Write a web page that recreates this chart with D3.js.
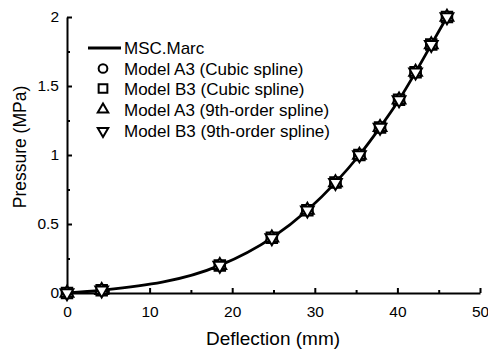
<!DOCTYPE html>
<html>
<head>
<meta charset="utf-8">
<script src="https://cdn.jsdelivr.net/npm/d3@7"></script>
<style>
body { margin: 0; background: #fff; }
text { font-family: "Liberation Sans", Arial, sans-serif; fill: #000; }
</style>
</head>
<body>
<div id="chart"></div>
<script>
// deflection (mm) and pressure (MPa)
var deflection = [0, 4.2, 18.5, 24.8, 29.1, 32.5, 35.4, 37.9, 40.2, 42.2, 44.1, 46.0];
var pressure   = [0, 0.02, 0.2, 0.4, 0.6, 0.8, 1.0, 1.2, 1.4, 1.6, 1.8, 2.0];
var seriesNames = ["MSC.Marc", "Model A3 (Cubic spline)", "Model B3 (Cubic spline)",
                   "Model A3 (9th-order spline)", "Model B3 (9th-order spline)"];
var xTicks = [0, 10, 20, 30, 40, 50];
var yTicks = [0, 0.5, 1, 1.5, 2];

var W = 488, H = 351;
var margin = {top: 17, right: 8, bottom: 58, left: 67};
var width = 480 - margin.left;
var height = 293 - margin.top;

var svg = d3.select("#chart").append("svg")
    .attr("width", W)
    .attr("height", H);

var g = svg.append("g")
    .attr("transform", "translate(" + margin.left + "," + margin.top + ")");

var x = d3.scaleLinear().domain([0, 50]).range([0, width]);
var y = d3.scaleLinear().domain([0, 2]).range([height, 0]);

var data = deflection.map(function(d, i) { return {x: d, y: pressure[i]}; });

// axes (ticks point inward)
g.append("g")
    .attr("transform", "translate(0," + height + ")")
    .call(d3.axisBottom(x).tickValues(xTicks).tickSize(-5).tickPadding(13).tickSizeOuter(0));
g.append("g")
    .attr("transform", "translate(0," + height + ")")
    .call(d3.axisBottom(x).tickValues([5, 15, 25, 35, 45]).tickSize(-3).tickFormat("").tickSizeOuter(0))
    .select(".domain").remove();

g.append("g")
    .call(d3.axisLeft(y).tickValues(yTicks).tickSize(-5).tickPadding(8).tickSizeOuter(0)
        .tickFormat(function(d) { return d; }));
g.append("g")
    .call(d3.axisLeft(y).tickValues([0.25, 0.75, 1.25, 1.75]).tickSize(-3).tickFormat("").tickSizeOuter(0))
    .select(".domain").remove();

g.selectAll(".domain, .tick line").attr("stroke", "#000").attr("stroke-width", 2);
g.selectAll(".tick text").style("font-size", "15.5px").attr("fill", "#000");

// curve
var line = d3.line()
    .x(function(d) { return x(d.x); })
    .y(function(d) { return y(d.y); })
    .curve(d3.curveMonotoneX);

g.append("path")
    .datum(data)
    .attr("fill", "none")
    .attr("stroke", "#000")
    .attr("stroke-width", 2.8)
    .attr("d", line);

// markers
var symbols = [
    {type: d3.symbolCircle, size: 80, legend: 60, rot: 0},
    {type: d3.symbolSquare, size: 110, legend: 76, rot: 0},
    {type: d3.symbolTriangle, size: 70, legend: 48, rot: 0},
    {type: d3.symbolTriangle, size: 70, legend: 48, rot: 180}
];

symbols.forEach(function(s) {
    g.append("g").selectAll("path")
        .data(data)
        .enter().append("path")
        .attr("d", d3.symbol().type(s.type).size(s.size))
        .attr("transform", function(d) {
            return "translate(" + x(d.x) + "," + y(d.y) + ") rotate(" + s.rot + ")";
        })
        .attr("fill", "#fff")
        .attr("stroke", "#000")
        .attr("stroke-width", 2);
});

// legend
var legendY = [48, 68.5, 88.5, 109.5, 131];
var legend = svg.append("g").attr("transform", "translate(88,0)");
seriesNames.forEach(function(name, i) {
    var row = legend.append("g").attr("transform", "translate(0," + legendY[i] + ")");
    if (i === 0) {
        row.append("line")
            .attr("x1", 0).attr("x2", 33).attr("y1", 0).attr("y2", 0)
            .attr("stroke", "#000").attr("stroke-width", 2.8);
    } else {
        var s = symbols[i - 1];
        row.append("path")
            .attr("d", d3.symbol().type(s.type).size(s.legend))
            .attr("transform", "translate(15,0) rotate(" + s.rot + ")")
            .attr("fill", "#fff")
            .attr("stroke", "#000")
            .attr("stroke-width", 2);
    }
    row.append("text")
        .attr("x", 36)
        .attr("y", 6)
        .style("font-size", "17px")
        .text(name);
});

// axis titles
svg.append("text")
    .attr("x", 273)
    .attr("y", 345)
    .attr("text-anchor", "middle")
    .style("font-size", "19px")
    .text("Deflection (mm)");

svg.append("text")
    .attr("transform", "translate(26,147) rotate(-90)")
    .attr("text-anchor", "middle")
    .style("font-size", "17.5px")
    .text("Pressure (MPa)");
</script>
</body>
</html>
